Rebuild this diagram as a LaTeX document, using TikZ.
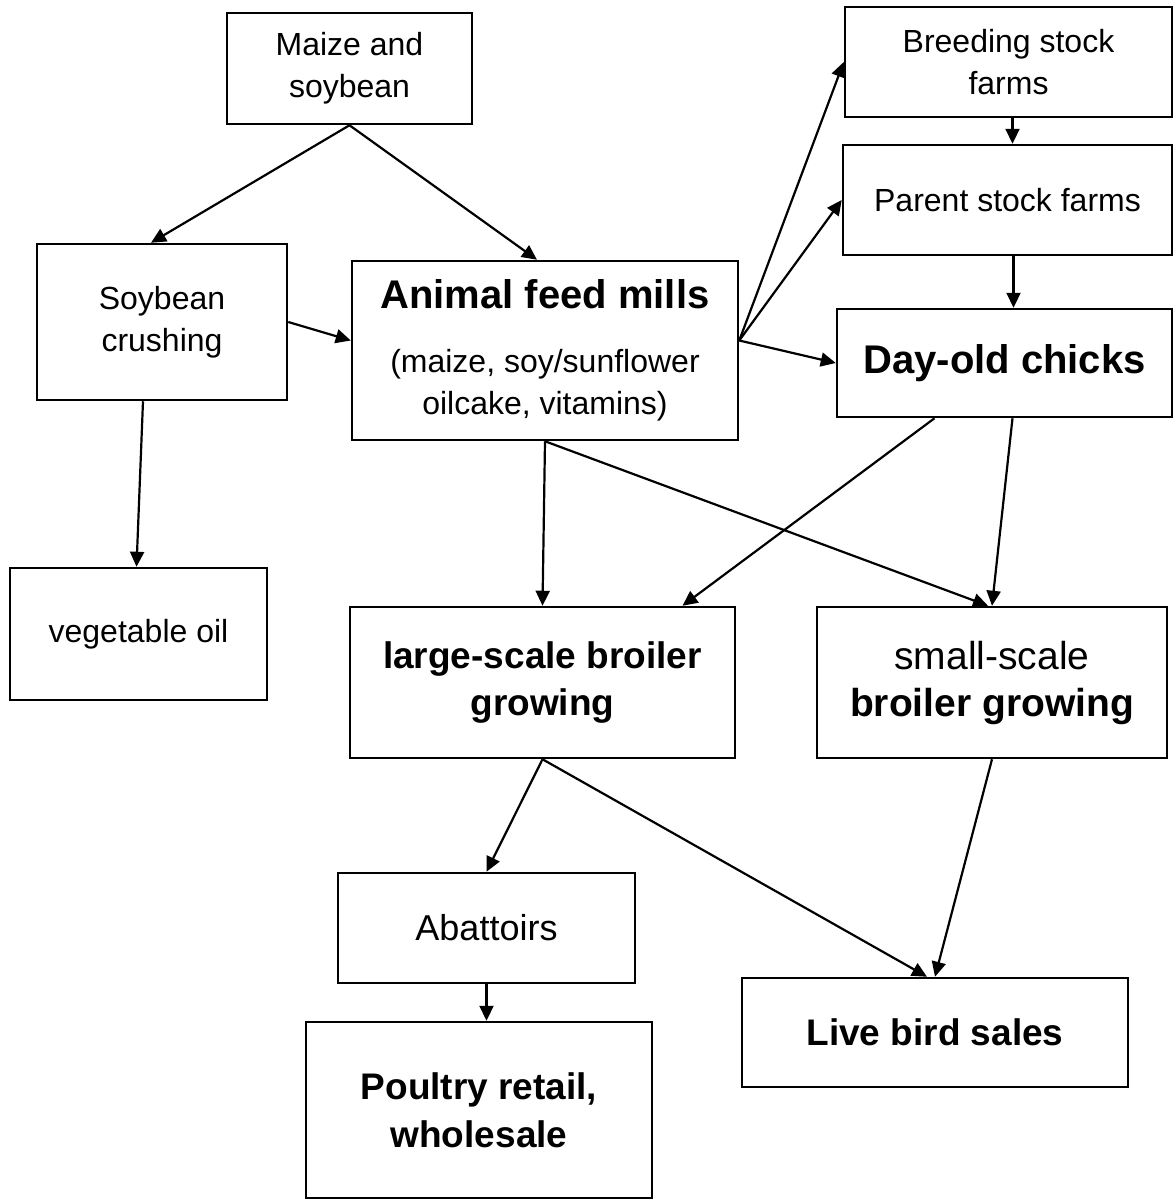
\documentclass[tikz,border=0pt]{standalone}
\usepackage{fontspec}
\setmainfont{Liberation Sans}
\usetikzlibrary{arrows.meta}

\newcommand{\nrm}{\fontsize{16}{21}\selectfont}
\newcommand{\bgb}{\fontsize{20}{24}\selectfont\bfseries}
\newcommand{\mdb}{\fontsize{18.5}{23.5}\selectfont\bfseries}

\begin{document}
\begin{tikzpicture}[x=0.5pt, y=-0.5pt, >={Triangle[length=7.5pt,width=7pt]},
	box/.style 2 args={draw, line width=1.25pt, inner sep=0pt, align=center, minimum width=#1, minimum height=#2},
	flow/.style={->, line width=1.1pt}]
						\useasboundingbox (0,0) rectangle (1173,1200);
						\node[box={122.5pt}{55.5pt}, font=\nrm] (maize) at (349.5, 68.5) {Maize and\\soybean};
						\node[box={125pt}{78pt}, font=\nrm] (soy) at (162, 322) {Soybean\\crushing};
						\node[box={193pt}{89.5pt}, font=\fontsize{16}{21}\selectfont] (feed) at (545, 350.5) {\bgb Animal feed mills\\[11pt](maize, soy/sunflower\\oilcake, vitamins)};
						\node[box={163.5pt}{55pt}, font=\nrm] (breed) at (1008.5, 62) {Breeding stock\\farms};
						\node[box={164.5pt}{55pt}, font=\nrm] (parent) at (1007.5, 200) {Parent stock farms};
						\node[box={167.5pt}{54pt}, font=\bgb] (chicks) at (1004.5, 363) {Day-old chicks};
						\node[box={128.5pt}{66pt}, font=\nrm] (oil) at (138.5, 634) {vegetable oil};
						\node[box={192.5pt}{75.5pt}, font=\mdb] (large) at (542.5, 682.5) {large-scale broiler\\growing};
						\node[box={175pt}{75.5pt}, font=\fontsize{19.5}{23.5}\selectfont] (small) at (992, 682.5) {small-scale\\\bfseries broiler growing};
						\node[box={148.5pt}{55pt}, font=\fontsize{18}{22}\selectfont] (abat) at (486.5, 928) {Abattoirs};
						\node[box={173pt}{88pt}, font=\fontsize{18.5}{24}\selectfont\bfseries] (retail) at (479, 1110) {Poultry retail,\\wholesale};
						\node[box={193pt}{54.5pt}, font=\mdb] (live) at (935, 1032.5) {Live bird sales};
						% inputs
						\draw[flow] (maize.south) to ([xshift=-5.5pt]soy.north);
						\draw[flow] (maize.south) to ([xshift=-4pt]feed.north);
						\draw[flow] (soy.east) to ([yshift=5pt]feed.west);
						\draw[flow] ([xshift=-9.5pt]soy.south) to ([xshift=-1pt]oil.north);
						% breeding chain
						\draw[flow] ([yshift=5pt]feed.east) to (breed.west);
						\draw[flow] ([yshift=5pt]feed.east) to (parent.west);
						\draw[flow] ([yshift=5pt]feed.east) to (chicks.west);
						\draw[flow] ([xshift=2pt]breed.south) to ([xshift=2pt]breed.south |- parent.north);
						\draw[flow] ([xshift=3pt]parent.south) to ([xshift=3pt]parent.south |- chicks.north);
						% growing
						\draw[flow] ([xshift=-35pt]chicks.south) to ([xshift=70pt]large.north);
						\draw[flow] ([xshift=4pt]chicks.south) to (small.north);
						\draw[flow] (feed.south) to (large.north);
						\draw[flow] (feed.south) to ([xshift=-2pt]small.north);
						% sales
						\draw[flow] (large.south) to (abat.north);
						\draw[flow] (large.south) to ([xshift=-4pt]live.north);
						\draw[flow] (small.south) to (live.north);
						\draw[flow] (abat.south) to (abat.south |- retail.north);
					\end{tikzpicture}
\end{document}
